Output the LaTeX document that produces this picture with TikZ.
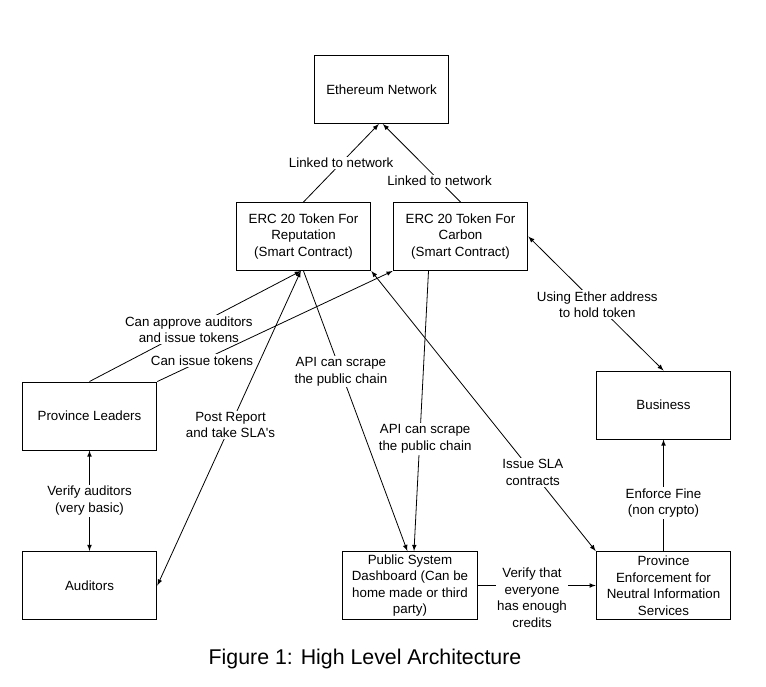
\documentclass[tikz,border=0pt]{standalone}
\usepackage{fontspec}
\setmainfont{Liberation Sans}
\begin{document}
\begin{tikzpicture}[x=0.75pt,y=-0.75pt,
    box/.style={draw,line width=0.75pt,minimum width=101pt,minimum height=51pt,inner sep=1pt,align=center,font=\fontsize{10}{12.4}\selectfont},
    lbl/.style={fill=white,inner sep=1pt,align=center,font=\fontsize{10}{12.4}\selectfont},
    conn/.style={line width=0.6pt},
    tip/.style={-{latex[scale=1.35]}},
    tips/.style={{latex[scale=1.35]}-{latex[scale=1.35]}}]
    \useasboundingbox (0,0) rectangle (766,686);

    \node[box] (eth) at (381.5,89.5) {Ethereum Network};
    \node[box] (rep) at (303.5,236.5) {ERC 20 Token For\\Reputation\\(Smart Contract)};
    \node[box] (carb) at (460.5,236.5) {ERC 20 Token For\\Carbon\\(Smart Contract)};
    \node[box] (lead) at (89.5,416) {Province Leaders};
    \node[box] (aud) at (89.5,585.5) {Auditors};
    \node[box] (dash) at (410,585.5) {Public System\\Dashboard (Can be\\home made or third\\party)};
    \node[box] (enf) at (663.5,585.5) {Province\\Enforcement for\\Neutral Information\\Services};
    \node[box] (bus) at (663.5,405) {Business};

    \draw[conn,tip] (rep.north) -- ([xshift=-2pt]eth.south) node[lbl,pos=.5]{Linked to network};
    \draw[conn,tip] (carb.north) -- ([xshift=1pt]eth.south) node[lbl,pos=.27]{Linked to network};

    \draw[conn,tip] (lead.north) -- ([xshift=-2pt]rep.south) node[lbl,pos=.47]{Can approve auditors\\and issue tokens};
    \draw[conn,tip] (lead.north east) -- (carb.south west) node[lbl,pos=.19]{Can issue tokens};
    \draw[conn,tips] (aud.east) -- ([xshift=-2pt]rep.south) node[lbl,pos=.51]{Post Report\\and take SLA\textquotesingle s};
    \draw[conn,tip] (rep.south) -- ([xshift=-2pt]dash.north) node[lbl,pos=.36]{API can scrape\\the public chain};
    \draw[conn,tip] ([xshift=-24pt]carb.south) -- ([xshift=3pt]dash.north) node[lbl,pos=.6,xshift=4pt]{API can scrape\\the public chain};
    \draw[conn,tips] (rep.south east) -- (enf.north west) node[lbl,pos=.72]{Issue SLA\\contracts};
    \draw[conn,tips] (carb.east) -- (bus.north) node[lbl,pos=.51]{Using Ether address\\to hold token};

    \draw[conn,tip] (enf.north) -- (bus.south) node[lbl,pos=.43]{Enforce Fine\\(non crypto)};
    \draw[conn,tip] (dash.east) -- (enf.west) node[lbl,pos=.46,yshift=-9pt]{Verify that\\everyone\\has enough\\credits};
    \draw[conn,tips] (lead.south) -- (aud.north) node[lbl,pos=.5]{Verify auditors\\(very basic)};

    \node (cap) at (365,659) {\fontsize{16}{19}\selectfont Figure 1: High Level Architecture};
\end{tikzpicture}
\end{document}
